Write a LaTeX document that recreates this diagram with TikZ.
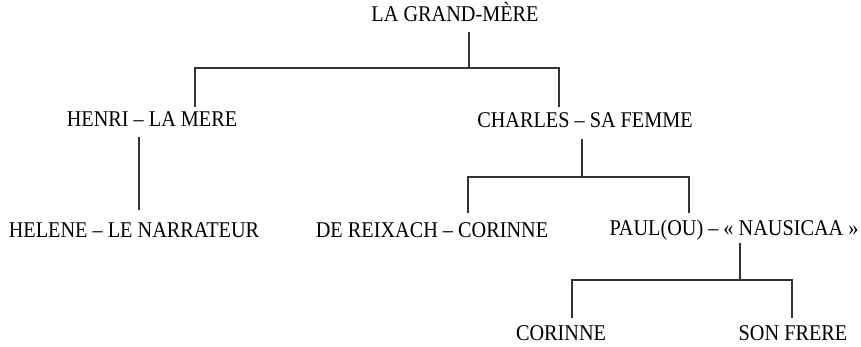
\documentclass[tikz,border=0pt]{standalone}
\usepackage{fontspec}
\setmainfont[FakeStretch=0.9]{Liberation Serif}
\begin{document}
\begin{tikzpicture}[x=1pt,y=-1pt,
  person/.style={inner sep=0pt, anchor=base, font=\fontsize{22.5}{24}\selectfont, text=black},
  link/.style={line width=1.1pt, draw=black!80}]
\useasboundingbox (0,0) rectangle (861,347);
% people
\node[person] (gm) at (455,22) {LA GRAND-MÈRE};
\node[person] (henri) at (152,127) {HENRI – LA MERE};
\node[person] (charles) at (585,128) {CHARLES – SA FEMME};
\node[person] (helene) at (134,237) {HELENE – LE NARRATEUR};
\node[person] (reixach) at (432,237) {DE REIXACH – CORINNE};
\node[person] (paul) at (734,236) {PAUL(OU) – « NAUSICAA »};
\node[person] (corinne) at (561,340) {CORINNE};
\node[person] (frere) at (793,340) {SON FRERE};
% connector points
\coordinate (gmB) at (469,32);
\coordinate (gmJ) at (469,68);
\coordinate (henriT) at (195,107);
\coordinate (charlesT) at (559,107);
\coordinate (henriB) at (139,137);
\coordinate (heleneT) at (139,210);
\coordinate (charlesB) at (582,139);
\coordinate (charlesJ) at (582,177);
\coordinate (reixachT) at (468,213);
\coordinate (paulT) at (689,213);
\coordinate (paulB) at (740,243);
\coordinate (paulJ) at (740,280);
\coordinate (corinneT) at (572,318);
\coordinate (frereT) at (792,318);
% connectors
\draw[link] (gmB) -- (gmJ);
\draw[link] (henriT) |- (gmJ) -| (charlesT);
\draw[link] (henriB) -- (heleneT);
\draw[link] (charlesB) -- (charlesJ);
\draw[link] (reixachT) |- (charlesJ) -| (paulT);
\draw[link] (paulB) -- (paulJ);
\draw[link] (corinneT) |- (paulJ) -| (frereT);
\end{tikzpicture}
\end{document}
